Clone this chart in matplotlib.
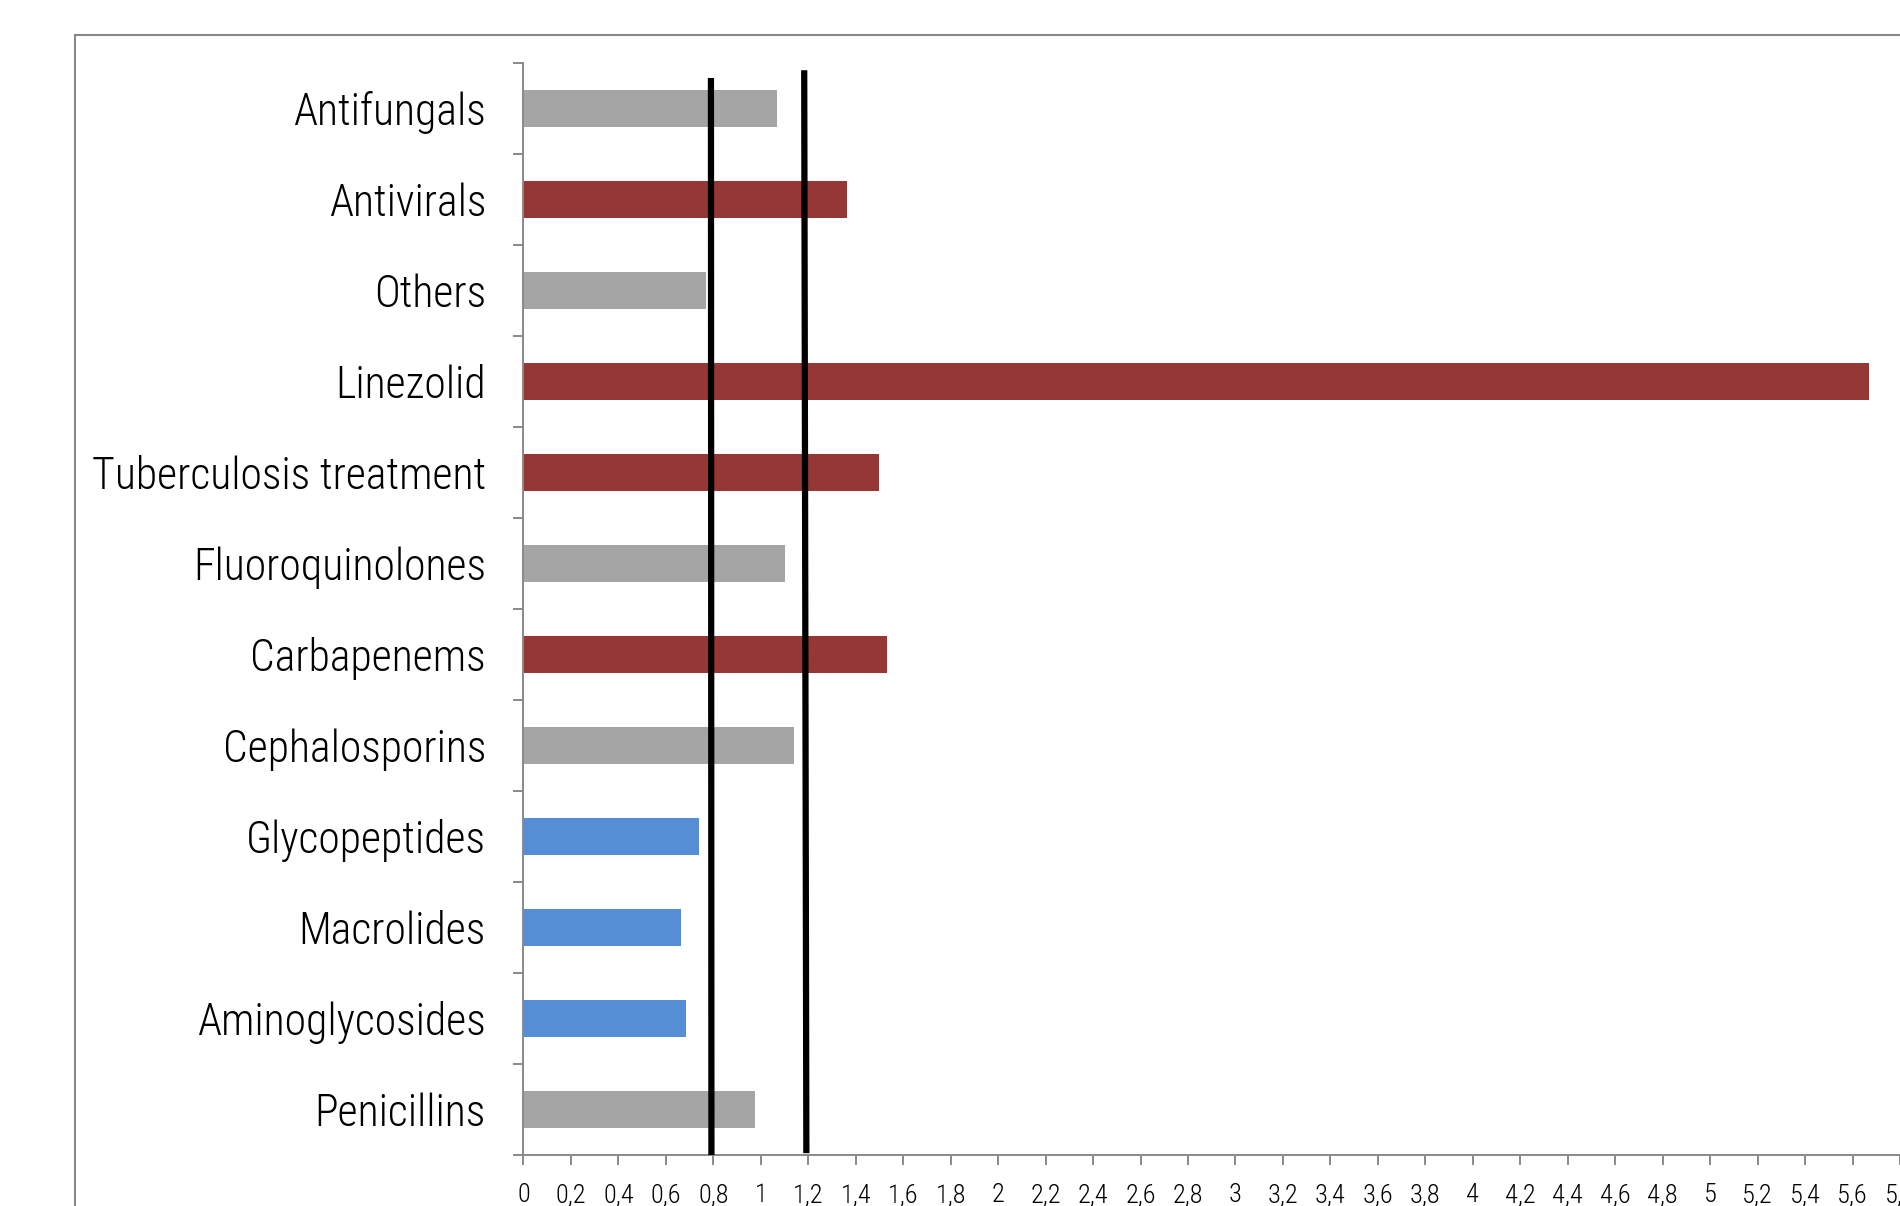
import os
import matplotlib
matplotlib.use("Agg")
import matplotlib.pyplot as plt
from matplotlib.lines import Line2D
import matplotlib.font_manager as fm
import numpy as np

categories = ["Penicillins", "Aminoglycosides", "Macrolides", "Glycopeptides",
              "Cephalosporins", "Carbapenems", "Fluoroquinolones",
              "Tuberculosis treatment", "Linezolid", "Others", "Antivirals",
              "Antifungals"]
values = [0.975, 0.685, 0.665, 0.74, 1.14, 1.53, 1.10, 1.50, 5.67, 0.77, 1.365, 1.07]
groups = ["gray", "blue", "blue", "blue", "gray", "red", "gray", "red", "red",
          "gray", "red", "gray"]
group_colors = {"gray": "#A5A5A5", "red": "#953735", "blue": "#558ED5"}

# reference lines (x at top, x at bottom)
ref_x_top = [0.790, 1.183]
ref_x_bot = [0.792, 1.192]
ref_y_top = [11.335, 11.42]
ref_y_bot = [-0.5, -0.48]

xticks = np.round(np.arange(0, 5.81, 0.2), 1)
xticklabels = [("%g" % t).replace(".", ",") for t in xticks]

# pick a narrow/condensed font if available
prefs = ["LiberationSansNarrow-Regular", "NotoSans-CondensedLight", "NotoSans-Condensed.",
         "NotoSans-Condensed-Regular", "NotoSans-SemiCondensedLight", "NotoSans-ExtraCondensedLight",
         "RobotoCondensed-Light", "RobotoCondensed-Regular", "Roboto_Condensed-Light",
         "OpenSans_Condensed-Light", "OpenSans-CondensedLight", "DejaVuSansCondensed.ttf"]
files = [f.fname for f in fm.fontManager.ttflist]
chosen = None
for p in prefs:
    for fn in files:
        if p in os.path.basename(fn):
            chosen = fn
            break
    if chosen:
        break
if chosen is None:
    for fn in files:
        b = os.path.basename(fn)
        if ("Condensed" in b or "Narrow" in b) and "Bold" not in b and "Italic" not in b:
            chosen = fn
            break

def fp(size):
    if chosen:
        return fm.FontProperties(fname=chosen, size=size)
    return fm.FontProperties(family="DejaVu Sans", size=size)

fig = plt.figure(figsize=(19, 12.06), dpi=100)
ax = fig.add_axes([0.2755, 0.0423, 0.7245, 0.9055])

y = np.arange(len(categories))
ax.barh(y, values, height=0.4, color=[group_colors[g] for g in groups], zorder=2)

for xt, xb, yt, yb in zip(ref_x_top, ref_x_bot, ref_y_top, ref_y_bot):
    ax.plot([xt, xb], [yt, yb], color="black", lw=4.5, solid_capstyle="butt", zorder=3)

ax.set_xlim(0, 5.8)
ax.set_ylim(-0.5, len(categories) - 0.5)

ax.set_yticks(y)
ax.set_yticklabels(categories, fontproperties=fp(31.5))
ax.set_yticks(np.arange(-0.5, len(categories)), minor=True)
ax.tick_params(axis="y", which="major", length=0, pad=27)
ax.tick_params(axis="y", which="minor", length=7, width=1.4, color="#898989", direction="out")

ax.set_xticks(xticks)
ax.set_xticklabels(xticklabels, fontproperties=fp(19))
ax.tick_params(axis="x", which="major", length=7, width=1.4, color="#898989", pad=13)

for s in ["top", "right"]:
    ax.spines[s].set_visible(False)
for s in ["left", "bottom"]:
    ax.spines[s].set_color("#898989")
    ax.spines[s].set_linewidth(1.4)

# outer chart border
bl = 0.0395
bt = 0.971
fig.add_artist(Line2D([bl, bl], [bt, -0.01], transform=fig.transFigure, color="#888888", lw=1.5))
fig.add_artist(Line2D([bl, 1.01], [bt, bt], transform=fig.transFigure, color="#888888", lw=1.5))

fig.savefig("out.png", dpi=100)
